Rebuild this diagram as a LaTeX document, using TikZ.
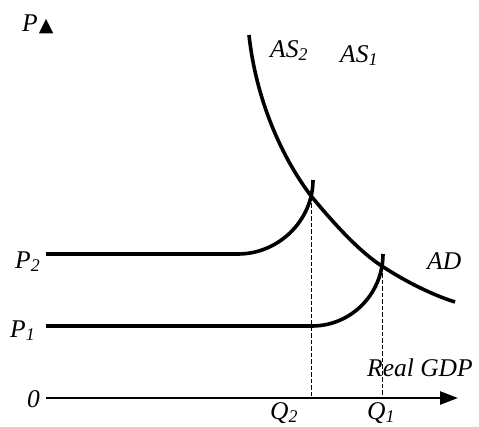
\documentclass[tikz,border=0pt]{standalone}
\usepackage{fontspec}
\setmainfont{Liberation Serif}
\newfontfamily\symfont{DejaVu Sans}
\usetikzlibrary{arrows.meta}
\begin{document}
\begin{tikzpicture}[x=1pt,y=-1pt,
  lbl/.style={anchor=base west,inner sep=0pt,font=\fontsize{25.5}{29}\selectfont\itshape},
  curve/.style={line width=3.6pt},
  axisline/.style={line width=2.6pt,-{Triangle[length=18pt,width=13pt]}},
  guide/.style={line width=1.5pt,dash pattern=on 4.5pt off 2pt}]
\useasboundingbox (0,0) rectangle (479,426);
% coordinates
\coordinate (O) at (46,398);
\coordinate (X) at (458,398);
\coordinate (P1s) at (46,326);
\coordinate (P1k) at (312,326);
\coordinate (AS1t) at (383,254);
\coordinate (P2s) at (46,254);
\coordinate (P2k) at (238,254);
\coordinate (AS2t) at (313,180);
\coordinate (E2) at (311.5,196.5);
\coordinate (E1) at (382.5,266.5);
\coordinate (Q2) at (311.5,398);
\coordinate (Q1) at (382.5,398);
\coordinate (ADs) at (249,35);
\coordinate (ADe) at (455,302);
% axis
\draw[axisline] (O) -- (X);
% AS curves
\draw[curve] (P1s) -- (P1k) .. controls (351,326) and (383,294) .. (AS1t);
\draw[curve] (P2s) -- (P2k) .. controls (279,254) and (313,220) .. (AS2t);
% AD
\draw[curve] (ADs) .. controls (256,100) and (282,158) .. (E2)
  .. controls (336,226) and (360,252) .. (E1)
  .. controls (405,281) and (430,294) .. (ADe);
% guides
\draw[guide] (E2) -- (Q2);
\draw[guide] (E1) -- (Q1);
% labels
\node[lbl] (lP) at (22,31) {P\hspace{1pt}{\symfont\fontsize{19}{22}\selectfont ▲}};
\node[lbl] (lAS2) at (270,57) {AS\textsubscript{2}};
\node[lbl] (lAS1) at (340,62) {AS\textsubscript{1}};
\node[lbl] (lAD) at (427,269) {AD};
\node[lbl] (lGDP) at (367,376) {Real GDP};
\node[lbl] (lQ2) at (270,419) {Q\textsubscript{2}};
\node[lbl] (lQ1) at (367,419) {Q\textsubscript{1}};
\node[lbl] (lP2) at (15,268) {P\textsubscript{2}};
\node[lbl] (lP1) at (10,337) {P\textsubscript{1}};
\node[lbl] (l0) at (27,407) {0};
\end{tikzpicture}
\end{document}
